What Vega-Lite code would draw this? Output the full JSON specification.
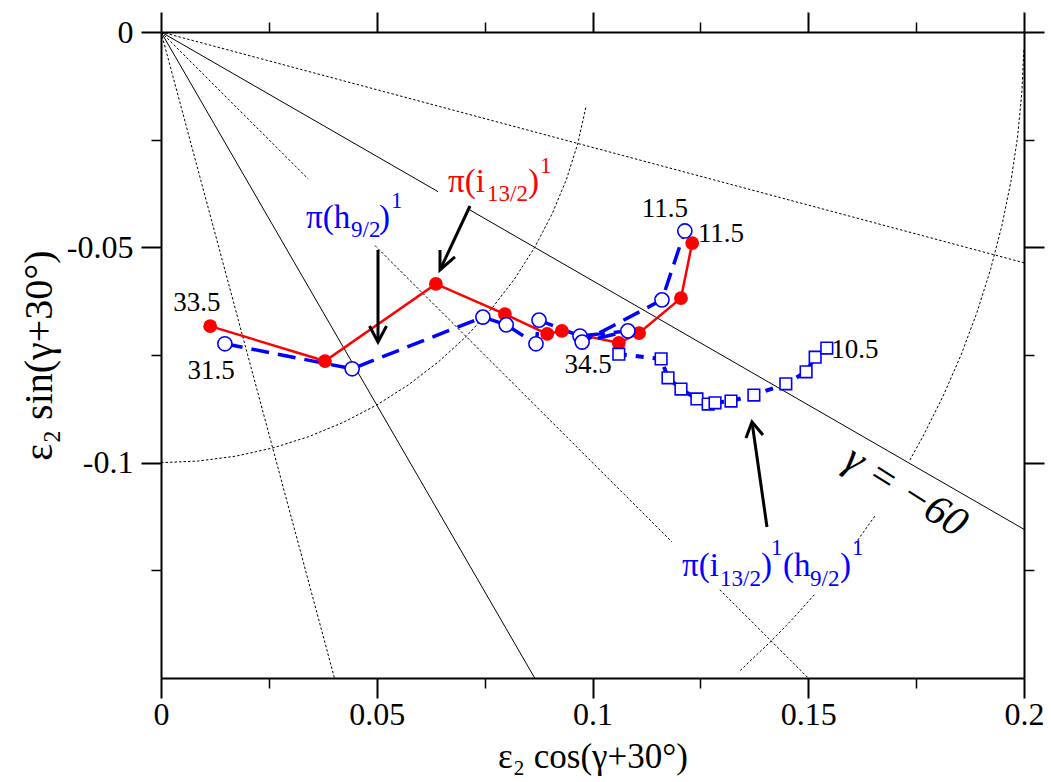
{
  "$schema": "https://vega.github.io/schema/vega-lite/v6.json",
  "width": 863,
  "height": 646,
  "autosize": {"type": "none"},
  "padding": {"left": 161, "top": 32, "right": 27, "bottom": 104},
  "background": "white",
  "config": {
    "view": {"stroke": null},
    "axis": {
      "grid": false,
      "domainColor": "black",
      "domainWidth": 2,
      "tickColor": "black",
      "labelColor": "black",
      "titleColor": "black",
      "labelFont": "Liberation Serif",
      "titleFont": "Liberation Serif",
      "titleFontWeight": "normal",
      "labelFlush": false,
      "labelOverlap": false
    }
  },
  "datasets": {
    "bands": [
      {"band": "i13", "i": 1, "x": 0.0114, "y": -0.0683},
      {"band": "i13", "i": 2, "x": 0.0380, "y": -0.0764},
      {"band": "i13", "i": 3, "x": 0.0637, "y": -0.0585},
      {"band": "i13", "i": 4, "x": 0.0797, "y": -0.0655},
      {"band": "i13", "i": 5, "x": 0.0895, "y": -0.0701},
      {"band": "i13", "i": 6, "x": 0.0929, "y": -0.0694},
      {"band": "i13", "i": 7, "x": 0.1061, "y": -0.0722},
      {"band": "i13", "i": 8, "x": 0.1108, "y": -0.0699},
      {"band": "i13", "i": 9, "x": 0.1205, "y": -0.0618},
      {"band": "i13", "i": 10, "x": 0.1231, "y": -0.0490},
      {"band": "h9", "i": 1, "x": 0.0148, "y": -0.0724},
      {"band": "h9", "i": 2, "x": 0.0443, "y": -0.0782},
      {"band": "h9", "i": 3, "x": 0.0746, "y": -0.0662},
      {"band": "h9", "i": 4, "x": 0.0800, "y": -0.0680},
      {"band": "h9", "i": 5, "x": 0.0869, "y": -0.0724},
      {"band": "h9", "i": 6, "x": 0.0876, "y": -0.0669},
      {"band": "h9", "i": 7, "x": 0.0971, "y": -0.0706},
      {"band": "h9", "i": 8, "x": 0.1082, "y": -0.0694},
      {"band": "h9", "i": 9, "x": 0.0976, "y": -0.0720},
      {"band": "h9", "i": 10, "x": 0.1161, "y": -0.0622},
      {"band": "h9", "i": 11, "x": 0.1214, "y": -0.0462},
      {"band": "sq", "i": 1, "x": 0.1061, "y": -0.0748},
      {"band": "sq", "i": 2, "x": 0.1159, "y": -0.0759},
      {"band": "sq", "i": 3, "x": 0.1175, "y": -0.0803},
      {"band": "sq", "i": 4, "x": 0.1205, "y": -0.0829},
      {"band": "sq", "i": 5, "x": 0.1242, "y": -0.0852},
      {"band": "sq", "i": 6, "x": 0.1268, "y": -0.0864},
      {"band": "sq", "i": 7, "x": 0.1284, "y": -0.0861},
      {"band": "sq", "i": 8, "x": 0.1321, "y": -0.0857},
      {"band": "sq", "i": 9, "x": 0.1374, "y": -0.0843},
      {"band": "sq", "i": 10, "x": 0.1448, "y": -0.0817},
      {"band": "sq", "i": 11, "x": 0.1495, "y": -0.0789},
      {"band": "sq", "i": 12, "x": 0.1516, "y": -0.0755},
      {"band": "sq", "i": 13, "x": 0.1543, "y": -0.0734}
    ],
    "solidGrid": [
      {"seg": "g30a", "i": 1, "x": 0, "y": 0},
      {"seg": "g30a", "i": 2, "x": 0.0642, "y": -0.03707},
      {"seg": "g30b", "i": 1, "x": 0.0716, "y": -0.04134},
      {"seg": "g30b", "i": 2, "x": 0.2, "y": -0.11547},
      {"seg": "g60", "i": 1, "x": 0, "y": 0},
      {"seg": "g60", "i": 2, "x": 0.0866, "y": -0.15}
    ],
    "dotGrid": [
      {"seg": "g15", "i": 1, "x": 0, "y": 0},
      {"seg": "g15", "i": 2, "x": 0.2, "y": -0.05359},
      {"seg": "g45a", "i": 1, "x": 0, "y": 0},
      {"seg": "g45a", "i": 2, "x": 0.0341, "y": -0.0341},
      {"seg": "g45b", "i": 1, "x": 0.0496, "y": -0.0496},
      {"seg": "g45b", "i": 2, "x": 0.1184, "y": -0.1184},
      {"seg": "g45c", "i": 1, "x": 0.1295, "y": -0.1295},
      {"seg": "g45c", "i": 2, "x": 0.15, "y": -0.15},
      {"seg": "g75", "i": 1, "x": 0, "y": 0},
      {"seg": "g75", "i": 2, "x": 0.04019, "y": -0.15},
      {"seg": "r1", "i": 1, "x": 0, "y": -0.1},
      {"seg": "r1", "i": 2, "x": 0.008716, "y": -0.099619},
      {"seg": "r1", "i": 3, "x": 0.017365, "y": -0.098481},
      {"seg": "r1", "i": 4, "x": 0.025882, "y": -0.096593},
      {"seg": "r1", "i": 5, "x": 0.034202, "y": -0.093969},
      {"seg": "r1", "i": 6, "x": 0.042262, "y": -0.090631},
      {"seg": "r1", "i": 7, "x": 0.05, "y": -0.086603},
      {"seg": "r1", "i": 8, "x": 0.057358, "y": -0.081915},
      {"seg": "r1", "i": 9, "x": 0.064279, "y": -0.076604},
      {"seg": "r1", "i": 10, "x": 0.070711, "y": -0.070711},
      {"seg": "r1", "i": 11, "x": 0.076604, "y": -0.064279},
      {"seg": "r1", "i": 12, "x": 0.081915, "y": -0.057358},
      {"seg": "r1", "i": 13, "x": 0.086603, "y": -0.05},
      {"seg": "r1", "i": 14, "x": 0.090631, "y": -0.042262},
      {"seg": "r1", "i": 15, "x": 0.093969, "y": -0.034202},
      {"seg": "r1", "i": 16, "x": 0.096593, "y": -0.025882},
      {"seg": "r1", "i": 17, "x": 0.098481, "y": -0.017365},
      {"seg": "r2a", "i": 1, "x": 0.19996, "y": -0.00419},
      {"seg": "r2a", "i": 2, "x": 0.19951, "y": -0.01395},
      {"seg": "r2a", "i": 3, "x": 0.19851, "y": -0.02437},
      {"seg": "r2a", "i": 4, "x": 0.19696, "y": -0.03473},
      {"seg": "r2a", "i": 5, "x": 0.19487, "y": -0.04499},
      {"seg": "r2a", "i": 6, "x": 0.19225, "y": -0.05513},
      {"seg": "r2a", "i": 7, "x": 0.18910, "y": -0.06511},
      {"seg": "r2a", "i": 8, "x": 0.18544, "y": -0.07492},
      {"seg": "r2a", "i": 9, "x": 0.18126, "y": -0.08452},
      {"seg": "r2a", "i": 10, "x": 0.17659, "y": -0.09389},
      {"seg": "r2a", "i": 11, "x": 0.17355, "y": -0.09939},
      {"seg": "r2b", "i": 1, "x": 0.16542, "y": -0.11242},
      {"seg": "r2b", "i": 2, "x": 0.16077, "y": -0.11896},
      {"seg": "r2c", "i": 1, "x": 0.15140, "y": -0.13068},
      {"seg": "r2c", "i": 2, "x": 0.14627, "y": -0.13640},
      {"seg": "r2c", "i": 3, "x": 0.14142, "y": -0.14142},
      {"seg": "r2c", "i": 4, "x": 0.13383, "y": -0.14863}
    ],
    "arrows": [
      {"seg": "a1", "i": 1, "x": 0.07161, "y": -0.04040},
      {"seg": "a1", "i": 2, "x": 0.06466, "y": -0.05526},
      {"seg": "a1h", "i": 1, "x": 0.06466, "y": -0.05061},
      {"seg": "a1h", "i": 2, "x": 0.06466, "y": -0.05526},
      {"seg": "a1h", "i": 3, "x": 0.06813, "y": -0.05224},
      {"seg": "a2", "i": 1, "x": 0.05029, "y": -0.05061},
      {"seg": "a2", "i": 2, "x": 0.05029, "y": -0.07197},
      {"seg": "a2h", "i": 1, "x": 0.04832, "y": -0.06826},
      {"seg": "a2h", "i": 2, "x": 0.05029, "y": -0.07197},
      {"seg": "a2h", "i": 3, "x": 0.05226, "y": -0.06826},
      {"seg": "a3", "i": 1, "x": 0.14044, "y": -0.11493},
      {"seg": "a3", "i": 2, "x": 0.13696, "y": -0.09055},
      {"seg": "a3h", "i": 1, "x": 0.13557, "y": -0.09427},
      {"seg": "a3h", "i": 2, "x": 0.13696, "y": -0.09055},
      {"seg": "a3h", "i": 3, "x": 0.13951, "y": -0.09357}
    ],
    "spins": [
      {"text": "33.5", "x": 0.00834, "y": -0.06292},
      {"text": "31.5", "x": 0.01159, "y": -0.07871},
      {"text": "11.5", "x": 0.11680, "y": -0.04110},
      {"text": "11.5", "x": 0.12978, "y": -0.04690},
      {"text": "34.5", "x": 0.09896, "y": -0.07732},
      {"text": "10.5", "x": 0.16083, "y": -0.07383}
    ],
    "lbl": [
      {"part": "big", "grp": "red", "text": "π(i", "x": 0.06651, "y": -0.03715},
      {"part": "sub", "grp": "red", "text": "13/2", "x": 0.07555, "y": -0.03924},
      {"part": "big", "grp": "red", "text": ")", "x": 0.08505, "y": -0.03715},
      {"part": "sup", "grp": "red", "text": "1", "x": 0.08783, "y": -0.03274},
      {"part": "big", "grp": "blue", "text": "π(h", "x": 0.03360, "y": -0.04551},
      {"part": "sub", "grp": "blue", "text": "9/2", "x": 0.04403, "y": -0.04760},
      {"part": "big", "grp": "blue", "text": ")", "x": 0.05052, "y": -0.04551},
      {"part": "sup", "grp": "blue", "text": "1", "x": 0.05330, "y": -0.04086},
      {"part": "big", "grp": "blue", "text": "π(i", "x": 0.12074, "y": -0.12631},
      {"part": "sub", "grp": "blue", "text": "13/2", "x": 0.12955, "y": -0.12863},
      {"part": "big", "grp": "blue", "text": ")", "x": 0.13905, "y": -0.12631},
      {"part": "sup", "grp": "blue", "text": "1", "x": 0.14137, "y": -0.12143},
      {"part": "big", "grp": "blue", "text": "(h", "x": 0.14415, "y": -0.12631},
      {"part": "sub", "grp": "blue", "text": "9/2", "x": 0.15041, "y": -0.12863},
      {"part": "big", "grp": "blue", "text": ")", "x": 0.15736, "y": -0.12631},
      {"part": "sup", "grp": "blue", "text": "1", "x": 0.16014, "y": -0.12143}
    ],
    "gam": [
      {"text": "γ = −60", "x": 0.17265, "y": -0.10657}
    ]
  },
  "layer": [
    {
      "data": {"name": "dotGrid"},
      "mark": {"type": "line", "color": "black", "strokeWidth": 1, "strokeDash": [2.5, 2]},
      "encoding": {
        "x": {"field": "x", "type": "quantitative", "scale": {"domain": [0, 0.2], "nice": false, "zero": false},
          "axis": {"orient": "bottom", "values": [0, 0.05, 0.1, 0.15, 0.2], "tickSize": 20, "tickWidth": 2, "labelFontSize": 32, "labelPadding": 1, "labelExpr": "replace(format(datum.value, '~g'), '−', '-')", "title": "ε₂ cos(γ+30°)", "titleFontSize": 35, "titlePadding": 9}},
        "y": {"field": "y", "type": "quantitative", "scale": {"domain": [-0.15, 0], "nice": false, "zero": false},
          "axis": {"orient": "left", "values": [0, -0.05, -0.1], "tickSize": 20, "tickWidth": 2, "labelFontSize": 32, "labelPadding": 8, "labelExpr": "replace(format(datum.value, '~g'), '−', '-')", "title": "ε₂ sin(γ+30°)", "titleFontSize": 40, "titlePadding": 7}},
        "detail": {"field": "seg"},
        "order": {"field": "i", "type": "quantitative"}
      }
    },
    {
      "data": {"name": "solidGrid"},
      "mark": {"type": "line", "color": "black", "strokeWidth": 1},
      "encoding": {
        "x": {"field": "x", "type": "quantitative", "scale": {"domain": [0, 0.2], "nice": false, "zero": false},
          "axis": {"orient": "bottom", "values": [0.025, 0.075, 0.125, 0.175], "tickSize": 10, "tickWidth": 1.5, "labels": false, "domain": false, "title": null}},
        "y": {"field": "y", "type": "quantitative", "scale": {"domain": [-0.15, 0], "nice": false, "zero": false},
          "axis": {"orient": "left", "values": [-0.025, -0.075, -0.125], "tickSize": 10, "tickWidth": 1.5, "labels": false, "domain": false, "title": null}},
        "detail": {"field": "seg"},
        "order": {"field": "i", "type": "quantitative"}
      }
    },
    {
      "data": {"name": "bands"},
      "transform": [{"filter": "datum.band == 'i13'"}],
      "mark": {"type": "line", "color": "#ff0000", "strokeWidth": 2.5},
      "encoding": {
        "x": {"field": "x", "type": "quantitative", "scale": {"domain": [0, 0.2], "nice": false, "zero": false},
          "axis": {"orient": "top", "values": [0, 0.05, 0.1, 0.15, 0.2], "tickSize": 20, "tickWidth": 2, "labels": false, "title": null}},
        "y": {"field": "y", "type": "quantitative", "scale": {"domain": [-0.15, 0], "nice": false, "zero": false},
          "axis": {"orient": "right", "values": [0, -0.05, -0.1], "tickSize": 20, "tickWidth": 2, "labels": false, "title": null}},
        "order": {"field": "i", "type": "quantitative"}
      }
    },
    {
      "data": {"name": "bands"},
      "transform": [{"filter": "datum.band == 'h9'"}],
      "mark": {"type": "line", "color": "#0000ff", "strokeWidth": 3.5, "strokeDash": [18, 9], "strokeCap": "butt"},
      "encoding": {
        "x": {"field": "x", "type": "quantitative", "scale": {"domain": [0, 0.2], "nice": false, "zero": false},
          "axis": {"orient": "top", "values": [0.025, 0.075, 0.125, 0.175], "tickSize": 10, "tickWidth": 1.5, "labels": false, "domain": false, "title": null}},
        "y": {"field": "y", "type": "quantitative", "scale": {"domain": [-0.15, 0], "nice": false, "zero": false},
          "axis": {"orient": "right", "values": [-0.025, -0.075, -0.125], "tickSize": 10, "tickWidth": 1.5, "labels": false, "domain": false, "title": null}},
        "order": {"field": "i", "type": "quantitative"}
      }
    },
    {
      "data": {"name": "bands"},
      "transform": [{"filter": "datum.band == 'sq'"}],
      "mark": {"type": "line", "color": "#0000ff", "strokeWidth": 4, "strokeDash": [8, 9], "strokeCap": "butt"},
      "encoding": {
        "x": {"field": "x", "type": "quantitative", "scale": {"domain": [0, 0.2], "nice": false, "zero": false}, "axis": null},
        "y": {"field": "y", "type": "quantitative", "scale": {"domain": [-0.15, 0], "nice": false, "zero": false}, "axis": null},
        "order": {"field": "i", "type": "quantitative"}
      }
    },
    {
      "data": {"name": "bands"},
      "transform": [{"filter": "datum.band == 'i13'"}],
      "mark": {"type": "point", "shape": "circle", "filled": true, "color": "#ff0000", "size": 190, "opacity": 1},
      "encoding": {
        "x": {"field": "x", "type": "quantitative", "scale": {"domain": [0, 0.2], "nice": false, "zero": false}, "axis": null},
        "y": {"field": "y", "type": "quantitative", "scale": {"domain": [-0.15, 0], "nice": false, "zero": false}, "axis": null}
      }
    },
    {
      "data": {"name": "bands"},
      "transform": [{"filter": "datum.band == 'h9'"}],
      "mark": {"type": "point", "shape": "circle", "filled": true, "fill": "white", "stroke": "#0000ff", "strokeWidth": 1.6, "size": 200, "opacity": 1},
      "encoding": {
        "x": {"field": "x", "type": "quantitative", "scale": {"domain": [0, 0.2], "nice": false, "zero": false}, "axis": null},
        "y": {"field": "y", "type": "quantitative", "scale": {"domain": [-0.15, 0], "nice": false, "zero": false}, "axis": null}
      }
    },
    {
      "data": {"name": "bands"},
      "transform": [{"filter": "datum.band == 'sq'"}],
      "mark": {"type": "point", "shape": "square", "filled": true, "fill": "white", "stroke": "#0000ff", "strokeWidth": 1.6, "size": 135, "opacity": 1},
      "encoding": {
        "x": {"field": "x", "type": "quantitative", "scale": {"domain": [0, 0.2], "nice": false, "zero": false}, "axis": null},
        "y": {"field": "y", "type": "quantitative", "scale": {"domain": [-0.15, 0], "nice": false, "zero": false}, "axis": null}
      }
    },
    {
      "data": {"name": "arrows"},
      "mark": {"type": "line", "color": "black", "strokeWidth": 3, "strokeJoin": "miter", "strokeCap": "butt"},
      "encoding": {
        "x": {"field": "x", "type": "quantitative", "scale": {"domain": [0, 0.2], "nice": false, "zero": false}, "axis": null},
        "y": {"field": "y", "type": "quantitative", "scale": {"domain": [-0.15, 0], "nice": false, "zero": false}, "axis": null},
        "detail": {"field": "seg"},
        "order": {"field": "i", "type": "quantitative"}
      }
    },
    {
      "data": {"name": "spins"},
      "mark": {"type": "text", "font": "Liberation Serif", "fontSize": 27, "color": "black", "align": "center", "baseline": "middle"},
      "encoding": {
        "x": {"field": "x", "type": "quantitative", "scale": {"domain": [0, 0.2], "nice": false, "zero": false}, "axis": null},
        "y": {"field": "y", "type": "quantitative", "scale": {"domain": [-0.15, 0], "nice": false, "zero": false}, "axis": null},
        "text": {"field": "text"}
      }
    },
    {
      "data": {"name": "lbl"},
      "transform": [{"filter": "datum.part == 'big'"}],
      "mark": {"type": "text", "font": "Liberation Serif", "fontSize": 33, "align": "left", "baseline": "alphabetic"},
      "encoding": {
        "x": {"field": "x", "type": "quantitative", "scale": {"domain": [0, 0.2], "nice": false, "zero": false}, "axis": null},
        "y": {"field": "y", "type": "quantitative", "scale": {"domain": [-0.15, 0], "nice": false, "zero": false}, "axis": null},
        "text": {"field": "text"},
        "color": {"field": "grp", "type": "nominal", "scale": {"domain": ["red", "blue"], "range": ["#ff0000", "#0000ff"]}, "legend": null}
      }
    },
    {
      "data": {"name": "lbl"},
      "transform": [{"filter": "datum.part != 'big'"}],
      "mark": {"type": "text", "font": "Liberation Serif", "fontSize": 23, "align": "left", "baseline": "alphabetic"},
      "encoding": {
        "x": {"field": "x", "type": "quantitative", "scale": {"domain": [0, 0.2], "nice": false, "zero": false}, "axis": null},
        "y": {"field": "y", "type": "quantitative", "scale": {"domain": [-0.15, 0], "nice": false, "zero": false}, "axis": null},
        "text": {"field": "text"},
        "color": {"field": "grp", "type": "nominal", "scale": {"domain": ["red", "blue"], "range": ["#ff0000", "#0000ff"]}, "legend": null}
      }
    },
    {
      "data": {"name": "gam"},
      "mark": {"type": "text", "font": "Liberation Serif", "fontSize": 42, "fontStyle": "italic", "color": "black", "align": "center", "baseline": "middle", "angle": 32},
      "encoding": {
        "x": {"field": "x", "type": "quantitative", "scale": {"domain": [0, 0.2], "nice": false, "zero": false}, "axis": null},
        "y": {"field": "y", "type": "quantitative", "scale": {"domain": [-0.15, 0], "nice": false, "zero": false}, "axis": null},
        "text": {"field": "text"}
      }
    }
  ],
  "resolve": {"axis": {"x": "independent", "y": "independent"}}
}
